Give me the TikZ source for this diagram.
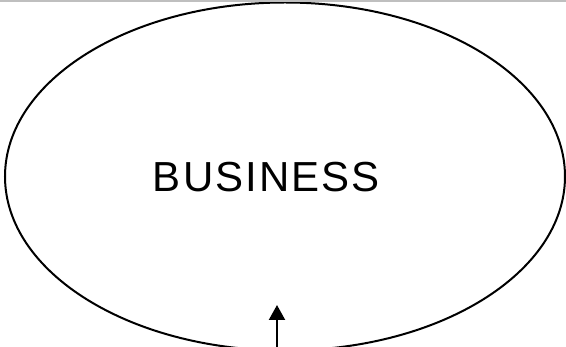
\documentclass[tikz,border=0pt]{standalone}
\usepackage{fontspec}
\setmainfont{Liberation Sans}
\usetikzlibrary{arrows.meta,shapes.geometric}
\begin{document}
\begin{tikzpicture}[x=1pt,y=-1pt,
  outline/.style={draw=black,line width=2pt},
  label/.style={inner sep=0pt,font=\fontsize{42}{46}\selectfont\addfontfeature{LetterSpace=5}},
  flow/.style={line width=2.2pt,-{Triangle[length=15pt,width=16pt]}}]
\useasboundingbox (0,0) rectangle (566,347);
\fill[white] (0,0) rectangle (566,347);
\begin{scope}
\clip (0,0) rectangle (566,347);
\node[outline,ellipse,minimum width=560pt,minimum height=348pt,inner sep=0pt] (biz) at (285,176.5) {};
\coordinate (base) at (277,349);
\coordinate (tip) at (277,305);
\draw[flow] (base) -- (tip);
\fill[black!25] (0,0) rectangle (566,2);
\end{scope}
\node[label,anchor=base] (txt) at (266.5,192) {BUSINESS};
\end{tikzpicture}
\end{document}
